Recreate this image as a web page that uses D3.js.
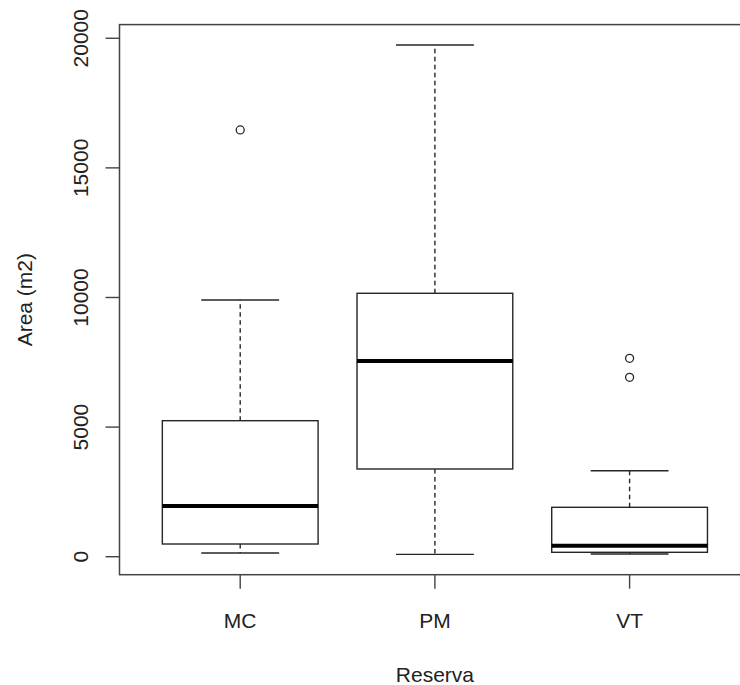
<!DOCTYPE html>
<html>
<head>
<meta charset="utf-8">
<script src="https://cdn.jsdelivr.net/npm/d3@7"></script>
<style>
  html, body { margin: 0; padding: 0; background: #fff; }
  svg { display: block; }
  text { font-family: "Liberation Sans", Arial, sans-serif; fill: #222; }
</style>
</head>
<body>
<svg id="chart" width="740" height="685"></svg>
<script>
// ---- data ----
const categories   = ["MC", "PM", "VT"];
const whiskerLow   = [143, 92, 104];
const q1           = [490, 3384, 170];
const median       = [1956, 7550, 424];
const q3           = [5247, 10162, 1906];
const whiskerHigh  = [9904, 19741, 3318];
const outliers     = [[16462], [], [7654, 6921]];
const yTicks       = [0, 5000, 10000, 15000, 20000];
const xTitle = "Reserva";
const yTitle = "Area (m2)";

// ---- layout ----
const svg = d3.select("#chart");
const plotLeft = 119.5, plotRight = 750.3, plotTop = 24.6, plotBottom = 574.7;

// R-style 4% extended ranges
const allVals = [].concat(whiskerLow, whiskerHigh, ...outliers);
const dMin = d3.min(allVals), dMax = d3.max(allVals);
const pad = (dMax - dMin) * 0.04;
const y = d3.scaleLinear().domain([dMin - pad, dMax + pad]).range([plotBottom, plotTop]);
const x = d3.scaleLinear().domain([0.5 - 0.12, categories.length + 0.5 + 0.12]).range([plotLeft, plotRight]);

const boxW = x(1.4) - x(1);      // half of boxwex 0.8
const stapleW = boxW / 2;
const ink = "#262626";

const data = categories.map((c, i) => ({
  c, i: i + 1, lo: whiskerLow[i], q1: q1[i], med: median[i], q3: q3[i], hi: whiskerHigh[i], out: outliers[i]
}));

const g = svg.append("g");

// whiskers (dashed)
data.forEach(d => {
  const cx = x(d.i);
  g.append("line").attr("x1", cx).attr("x2", cx).attr("y1", y(d.q3)).attr("y2", y(d.hi))
    .attr("stroke", ink).attr("stroke-width", 1.4).attr("stroke-dasharray", "4.5,3.5");
  g.append("line").attr("x1", cx).attr("x2", cx).attr("y1", y(d.q1)).attr("y2", y(d.lo))
    .attr("stroke", ink).attr("stroke-width", 1.4).attr("stroke-dasharray", "4.5,3.5");
  // staples
  [d.lo, d.hi].forEach(v => {
    g.append("line").attr("x1", cx - stapleW).attr("x2", cx + stapleW).attr("y1", y(v)).attr("y2", y(v))
      .attr("stroke", ink).attr("stroke-width", 1.4);
  });
  // box
  g.append("rect").attr("x", cx - boxW).attr("width", 2 * boxW)
    .attr("y", y(d.q3)).attr("height", y(d.q1) - y(d.q3))
    .attr("fill", "none").attr("stroke", ink).attr("stroke-width", 1.4);
  // median
  g.append("line").attr("x1", cx - boxW).attr("x2", cx + boxW).attr("y1", y(d.med)).attr("y2", y(d.med))
    .attr("stroke", "#000").attr("stroke-width", 4);
  // outliers
  d.out.forEach(v => {
    g.append("circle").attr("cx", cx).attr("cy", y(v)).attr("r", 4)
      .attr("fill", "none").attr("stroke", ink).attr("stroke-width", 1.3);
  });
});

// plot frame
svg.append("rect").attr("x", plotLeft).attr("y", plotTop)
  .attr("width", plotRight - plotLeft).attr("height", plotBottom - plotTop)
  .attr("fill", "none").attr("stroke", "#444").attr("stroke-width", 1.5);

// y axis (R style, rotated labels)
const yAxis = svg.append("g");
yTicks.forEach(t => {
  yAxis.append("line").attr("x1", plotLeft - 14).attr("x2", plotLeft).attr("y1", y(t)).attr("y2", y(t))
    .attr("stroke", "#444").attr("stroke-width", 1.4);
  yAxis.append("text").attr("transform", `translate(88,${y(t)}) rotate(-90)`)
    .attr("text-anchor", "middle").style("font-size", "21px").text(t);
});

// x axis
const xAxis = svg.append("g");
categories.forEach((c, i) => {
  const cx = x(i + 1);
  xAxis.append("line").attr("x1", cx).attr("x2", cx).attr("y1", plotBottom).attr("y2", plotBottom + 14)
    .attr("stroke", "#444").attr("stroke-width", 1.4);
  xAxis.append("text").attr("x", cx).attr("y", 628).attr("text-anchor", "middle")
    .style("font-size", "21px").text(c);
});

// titles
svg.append("text").attr("x", (plotLeft + plotRight) / 2 - 0.8 * (x(1) - x(0)) * 0 ).attr("y", 682)
  .attr("text-anchor", "middle").style("font-size", "21px").text(xTitle);
svg.append("text").attr("transform", `translate(32,${(plotTop + plotBottom) / 2}) rotate(-90)`)
  .attr("text-anchor", "middle").style("font-size", "21px").text(yTitle);
</script>
</body>
</html>
